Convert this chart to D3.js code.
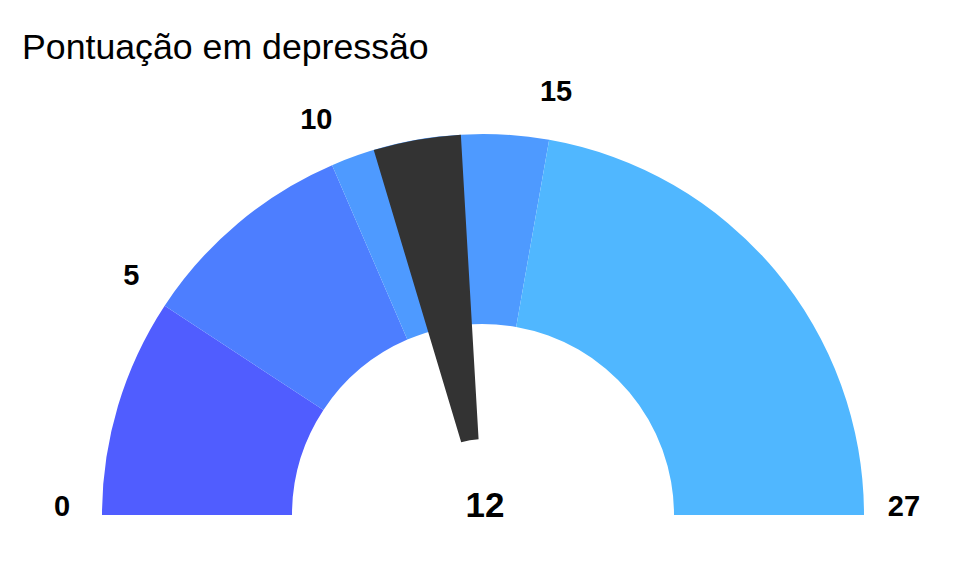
<!DOCTYPE html>
<html>
<head>
<meta charset="utf-8">
<script src="https://cdn.jsdelivr.net/npm/d3@7"></script>
<style>
  html, body { margin: 0; padding: 0; background: #ffffff; }
  svg { display: block; }
</style>
</head>
<body>
<svg id="chart" width="960" height="576"></svg>
<script>
// ---- data ----
const title = "Pontuação em depressão";
const bandStarts = [0, 5, 10, 15];
const bandEnds = [5, 10, 15, 27];
const bandColors = ["#505DFF", "#4D7EFF", "#4E9AFF", "#50B7FF"];
const tickValues = [0, 5, 10, 15, 27];
const scoreValue = 12;
const needleFrom = 11;
const needleTo = 13;
const domainMin = 0, domainMax = 27;

// ---- layout ----
const svg = d3.select("#chart");
const cx = 483, cy = 515;
const outerR = 381, innerR = 191, needleInnerR = 76, labelR = 421;

const angle = d3.scaleLinear().domain([domainMin, domainMax]).range([-Math.PI / 2, Math.PI / 2]);

const g = svg.append("g").attr("transform", `translate(${cx},${cy})`);

const bandArc = d3.arc().innerRadius(innerR).outerRadius(outerR);
const bands = bandStarts.map((s, i) => ({ start: s, end: bandEnds[i], color: bandColors[i] }));

g.selectAll("path.band")
  .data(bands)
  .join("path")
  .attr("class", "band")
  .attr("d", d => bandArc({ startAngle: angle(d.start), endAngle: angle(d.end) }))
  .attr("fill", d => d.color);

// needle (wedge)
const needleArc = d3.arc().innerRadius(needleInnerR).outerRadius(outerR);
g.append("path")
  .attr("d", needleArc({ startAngle: angle(needleFrom), endAngle: angle(needleTo) }))
  .attr("fill", "#333333");

// tick labels
g.selectAll("text.tick")
  .data(tickValues)
  .join("text")
  .attr("class", "tick")
  .attr("x", d => labelR * Math.sin(angle(d)))
  .attr("y", d => -labelR * Math.cos(angle(d)) + 1)
  .attr("text-anchor", "middle")
  .attr("font-family", "'Liberation Sans', Arial, sans-serif")
  .attr("font-weight", "bold")
  .attr("font-size", 29)
  .attr("fill", "#000")
  .text(d => d);

// center value
g.append("text")
  .attr("x", 2)
  .attr("y", 2)
  .attr("text-anchor", "middle")
  .attr("font-family", "'Liberation Sans', Arial, sans-serif")
  .attr("font-weight", "bold")
  .attr("font-size", 35)
  .attr("fill", "#000")
  .text(scoreValue);

// title
svg.append("text")
  .attr("x", 22)
  .attr("y", 59)
  .attr("font-family", "'Liberation Sans', Arial, sans-serif")
  .attr("font-size", 35.7)
  .attr("fill", "#000")
  .text(title);
</script>
</body>
</html>
